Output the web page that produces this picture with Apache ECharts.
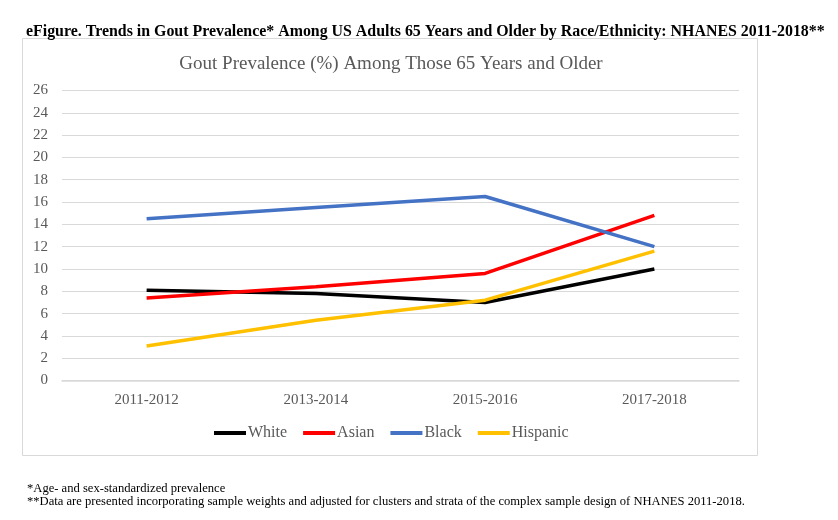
<!DOCTYPE html>
<html><head><meta charset="utf-8">
<script src="https://cdn.jsdelivr.net/npm/echarts@6/dist/echarts.min.js"></script>
<style>html,body{margin:0;padding:0;background:#fff}#c{width:838px;height:520px}</style>
</head><body><div id="c"></div>
<script>
const categories = ['2011-2012', '2013-2014', '2015-2016', '2017-2018'];
const white = [8.1, 7.8, 7.0, 10.0];
const asian = [7.4, 8.4, 9.6, 14.8];
const black = [14.5, 15.5, 16.5, 12.0];
const hispanic = [3.1, 5.4, 7.2, 11.6];
const seriesNames = ['White', 'Asian', 'Black', 'Hispanic'];
const seriesColors = ['#000000', '#ff0000', '#4472c4', '#ffc000'];
const seriesData = [white, asian, black, hispanic];

const font = '"Liberation Serif", "Times New Roman", serif';
const chart = echarts.init(document.getElementById('c'));
chart.setOption({
  animation: false,
  backgroundColor: '#fff',
  title: [
    { text: 'eFigure. Trends in Gout Prevalence* Among US Adults 65 Years and Older by Race/Ethnicity: NHANES 2011-2018**',
      left: 21, top: 19, textStyle: { fontFamily: font, fontSize: 15.9, fontWeight: 'bold', color: '#000' } },
    { text: 'Gout Prevalence (%) Among Those 65 Years and Older',
      left: 386, textAlign: 'center', top: 50, textStyle: { fontFamily: font, fontSize: 19, fontWeight: 'normal', color: '#595959' } },
    { text: '*Age- and sex-standardized prevalence\n**Data are presented incorporating sample weights and adjusted for clusters and strata of the complex sample design of NHANES 2011-2018.',
      left: 22, top: 477, textStyle: { fontFamily: font, fontSize: 12.6, fontWeight: 'normal', color: '#000', lineHeight: 13 } }
  ],
  graphic: [{ type: 'rect', shape: { x: 22.5, y: 38.5, width: 735, height: 417 },
    style: { fill: 'none', stroke: '#d9d9d9', lineWidth: 1 }, silent: true, z: -1 }],
  legend: {
    data: seriesNames, top: 420, left: 209, itemWidth: 32, itemHeight: 4, itemGap: 16,
    icon: 'rect',
    textStyle: { fontFamily: font, fontSize: 16, color: '#595959', padding: [0,0,0,-3] }
  },
  grid: { left: 62, right: 99, top: 90.5, bottom: 139.5, containLabel: false },
  xAxis: {
    type: 'category', data: categories, boundaryGap: true,
    axisLine: { show: true, lineStyle: { color: '#d9d9d9', width: 1.5 } },
    axisTick: { show: false },
    axisLabel: { fontFamily: font, fontSize: 15, color: '#595959', margin: 12 }
  },
  yAxis: {
    type: 'value', min: 0, max: 26, interval: 2,
    axisLine: { show: false }, axisTick: { show: false },
    axisLabel: { fontFamily: font, fontSize: 15, color: '#595959', margin: 14 },
    splitLine: { lineStyle: { color: '#d9d9d9', width: 1.2 } }
  },
  series: seriesNames.map((n, i) => ({
    name: n, type: 'line', data: seriesData[i], symbol: 'none',
    lineStyle: { color: seriesColors[i], width: 3.5 }, itemStyle: { color: seriesColors[i] }
  }))
});
</script></body></html>
